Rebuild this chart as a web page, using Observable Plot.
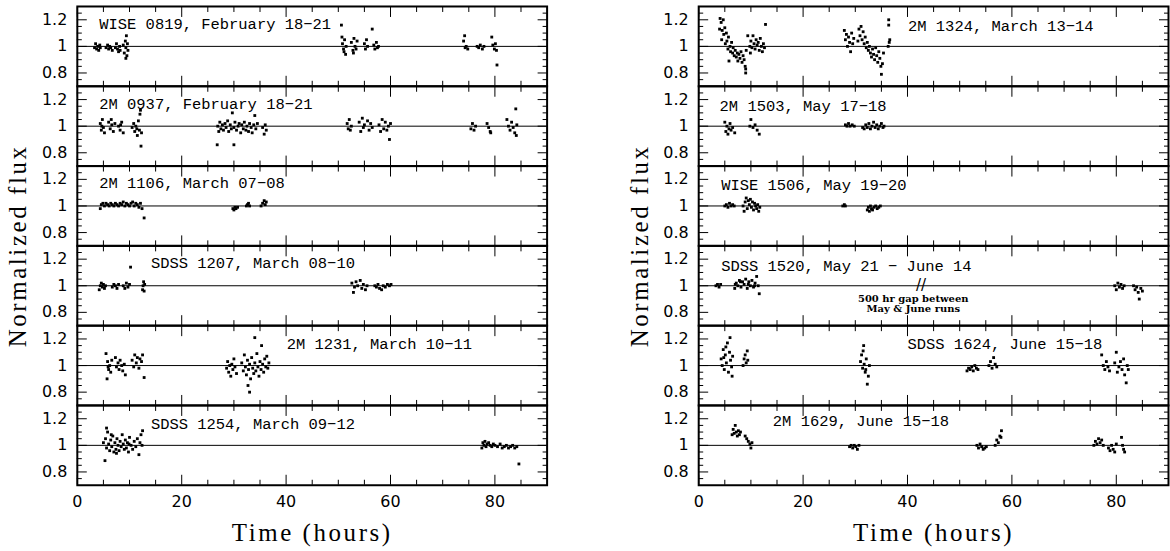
<!DOCTYPE html>
<html><head><meta charset="utf-8">
<script src="https://cdn.jsdelivr.net/npm/d3@7"></script>
<script src="https://cdn.jsdelivr.net/npm/@observablehq/plot@0.6"></script>
<style>html,body{margin:0;padding:0;background:#fff;overflow:hidden}</style>
</head><body><div id="chart"></div>
<script>
// ---- panel layout (column, row) and labels ----
const panelCol = ["L","L","L","L","L","L","R","R","R","R","R","R"];
const panelRow = [0,1,2,3,4,5,0,1,2,3,4,5];
const panelLabels = [
  "WISE 0819, February 18\u221221",
  "2M 0937, February 18\u221221",
  "2M 1106, March 07\u221208",
  "SDSS 1207, March 08\u221210",
  "2M 1231, March 10\u221211",
  "SDSS 1254, March 09\u221212",
  "2M 1324, March 13\u221214",
  "2M 1503, May 17\u221218",
  "WISE 1506, May 19\u221220",
  "SDSS 1520, May 21 \u2212 June 14",
  "SDSS 1624, June 15\u221218",
  "2M 1629, June 15\u221218"
];
const labelT = [4.2, 4.2, 4.2, 14.1, 40.1, 14.1, 40.1, 4.0, 4.3, 4.3, 40.0, 14.2];
const labelF = [1.17, 1.17, 1.17, 1.17, 1.16, 1.16, 1.15, 1.15, 1.16, 1.15, 1.16, 1.18];

// ---- tick values ----
const xMajor = [0, 20, 40, 60, 80];
const xMinor = [5, 10, 15, 25, 30, 35, 45, 50, 55, 65, 70, 75, 85];
const yMajor = [0.8, 1, 1.2];
const yMajorLabels = ["0.8", "1", "1.2"];
const yMinor = [0.75, 0.85, 0.9, 0.95, 1.05, 1.1, 1.15, 1.25];

// ---- light curves: [time (hours), normalized flux] ----
const wise0819 = [[3.3,0.99],[3.5,1.02],[3.7,0.98],[3.9,1.00],[4.1,0.97],[4.3,1.01],[4.4,0.99],
 [5.5,0.99],[5.8,1.01],[6.0,0.98],[6.2,1.00],[6.4,0.99],[6.7,0.97],
 [7.3,0.99],[7.5,1.02],[7.7,0.98],[7.9,0.96],[8.1,1.00],[8.2,0.97],
 [8.8,1.01],[9.0,0.95],[9.2,1.04],[9.3,0.99],[9.4,1.08],[9.5,0.93],[9.6,1.02],[9.7,0.97],[9.3,0.91],
 [50.6,1.16],[50.8,1.02],[51.0,0.98],[51.2,1.05],[51.4,0.94],[51.5,1.00],[50.7,1.07],[51.1,0.96],
 [52.5,1.03],[52.8,0.97],[53.0,1.06],[53.2,1.00],[53.4,0.98],[53.6,1.04],[52.9,0.95],
 [55.0,1.02],[55.2,0.98],[55.4,1.05],[55.6,1.00],
 [56.5,1.13],[56.8,1.01],[57.0,0.98],[57.3,1.03],[57.5,0.99],[57.7,1.00],
 [74.0,1.04],[74.3,0.99],[74.5,1.00],[74.8,0.98],[74.2,1.08],
 [76.6,1.00],[76.9,0.99],[77.2,1.01],[77.6,0.98],[77.9,1.00],
 [79.4,1.07],[79.6,1.01],[79.9,0.98],[80.1,1.02],[80.3,0.97],[80.4,0.86]];
const m0937 = [[4.4,1.02],[4.6,0.97],[4.8,1.05],[5.0,0.99],[5.2,0.95],[4.7,1.00],
 [6.0,1.03],[6.3,0.98],[6.6,1.01],[6.9,0.96],[7.2,1.02],[6.5,1.05],
 [7.9,1.00],[8.2,0.97],[8.5,1.03],[8.8,0.95],[8.3,1.01],
 [10.5,0.99],[10.8,1.02],[11.0,0.96],[11.2,1.00],[11.5,0.93],[11.7,1.04],[11.9,0.97],[12.0,1.09],[12.1,1.12],[12.2,0.85],[12.3,0.95],[11.4,0.98],
 [26.8,0.86],[26.9,1.00],[27.1,0.96],[27.3,1.03],[27.5,0.98],[27.8,1.01],[28.0,0.97],[28.3,1.02],[28.5,0.99],[28.8,1.04],[29.0,0.96],[29.3,1.01],[29.5,0.98],[29.7,1.10],[30.0,0.86],[30.0,0.99],[30.2,1.03],[30.5,0.97],[30.8,1.00],[31.0,1.02],[31.3,0.95],[31.5,1.01],[31.8,0.98],[32.0,1.03],[32.3,0.97],[32.5,1.00],[32.8,0.96],[33.0,1.02],[33.3,0.99],[33.5,0.95],[33.8,1.01],[34.0,1.08],[34.2,0.98],[34.5,1.02],[35.5,0.99],[35.8,0.94],[36.0,1.01],[36.2,0.97],
 [51.7,1.02],[51.9,0.98],[52.1,1.05],[52.3,0.97],[52.5,1.00],
 [54.0,1.03],[54.3,0.96],[54.6,1.06],[54.8,0.99],[55.0,1.01],
 [55.6,1.04],[55.9,0.97],[56.2,1.02],[56.5,0.99],
 [57.8,1.01],[58.1,0.96],[58.4,1.05],[58.7,0.98],[59.0,1.03],[59.3,0.97],[59.6,1.00],[59.8,0.90],[60.0,1.02],
 [75.4,0.98],[75.7,1.02],[76.0,0.97],[76.3,1.00],
 [78.5,1.02],[78.8,0.99],[79.1,0.96],[79.2,0.95],
 [82.3,1.05],[82.6,1.00],[82.9,0.97],[83.2,1.03],[83.5,0.99],[83.8,0.95],[84.0,1.13],[84.1,0.93],[84.2,1.01]];
const m1106 = [[4.4,0.98],[4.6,1.01],[4.9,1.02],[5.2,1.00],[5.5,1.02],[5.8,1.01],[6.1,1.00],[6.4,1.02],[6.7,1.01],[7.0,1.00],[7.3,1.02],[7.6,1.01],[7.9,1.00],[8.2,1.02],[8.5,1.01],[8.8,1.03],[9.1,1.00],[9.4,1.02],[9.7,1.01],[10.0,1.00],[10.3,1.02],[10.6,1.03],[10.9,1.00],[11.2,1.02],[11.5,1.01],[11.8,0.99],[12.1,1.02],[12.4,0.98],[12.8,0.91],
 [29.8,0.98],[30.0,0.97],[30.2,0.99],[30.4,0.98],[30.7,0.99],
 [32.4,1.00],[32.6,1.01],[32.8,1.02],[33.0,1.00],
 [35.2,1.00],[35.5,1.02],[35.8,1.04],[36.0,1.01],[36.2,1.03]];
const s1207 = [[4.2,0.97],[4.4,1.00],[4.6,1.02],[4.8,0.99],[5.0,1.01],[5.2,0.98],[5.4,1.00],
 [6.7,0.99],[7.0,1.01],[7.3,1.00],[7.6,0.98],[7.9,1.01],
 [8.8,1.00],[9.1,0.98],[9.4,1.02],[9.7,0.99],[10.0,1.01],[10.2,1.14],
 [12.5,0.97],[12.6,1.00],[12.7,1.03],[12.8,0.96],[12.9,1.01],
 [52.6,1.02],[52.9,0.95],[53.1,0.99],[53.4,1.03],[53.7,1.00],[54.2,1.04],[54.5,0.98],[54.8,1.01],[55.2,0.97],[55.5,1.00],
 [57.0,1.00],[57.3,0.99],[57.6,1.01],[57.9,0.98],[58.3,0.97],[58.6,1.00],[59.0,0.99],[59.4,1.01],[59.8,1.00],[60.1,1.01]];
const m1231 = [[5.5,1.09],[5.7,0.90],[5.8,1.03],[6.0,0.97],[6.2,1.00],[6.4,0.95],[6.6,1.04],[5.9,0.99],
 [7.3,1.06],[7.5,0.99],[7.8,1.02],[8.0,0.97],[8.2,1.04],[8.5,1.00],[8.7,0.96],[9.0,1.01],[9.2,0.93],
 [10.5,1.04],[10.8,0.99],[11.0,1.08],[11.3,1.02],[11.5,1.06],[11.8,0.98],[12.0,1.05],[12.3,1.03],[12.8,0.91],[12.5,1.08],
 [28.6,0.98],[28.8,1.03],[29.0,0.95],[29.2,1.00],[29.4,0.92],[29.6,1.01],[29.8,0.97],[30.0,1.05],[30.2,0.99],[30.5,0.94],
 [31.5,1.02],[31.8,0.96],[32.0,1.08],[32.2,0.99],[32.4,0.93],[32.6,1.04],[32.7,0.85],[32.8,0.97],[33.0,0.80],[33.0,1.01],[33.2,0.90],[33.4,1.06],[33.6,0.98],[33.8,0.94],[34.0,1.21],[34.0,1.02],[34.2,0.96],[34.4,1.09],[34.6,0.99],[34.8,0.92],[35.0,1.03],[35.2,0.97],[35.3,1.15],[35.5,1.01],[35.7,0.95],[35.9,1.05],[36.1,0.99],[36.3,1.07],[36.5,0.98],[36.7,1.02]];
const s1254 = [[5.0,1.02],[5.3,0.885],[5.4,1.05],[5.6,1.13],[5.6,0.98],[5.8,1.10],[6.0,1.01],[6.2,0.96],[6.4,1.04],[6.5,1.08],[6.6,0.99],[6.8,1.07],[7.0,0.95],[7.2,1.02],[7.4,0.97],[7.5,0.94],[7.6,1.05],[7.8,1.00],[8.0,0.96],[8.2,1.03],[8.4,0.99],[8.6,1.08],[8.8,1.01],[9.0,0.97],[9.2,1.04],[9.4,0.98],[9.6,1.02],[9.8,0.95],[9.9,1.01],[10.0,1.06],[10.3,1.00],[10.6,0.97],[10.9,1.03],[11.2,0.99],[11.5,1.05],[11.8,0.93],[12.0,1.02],[12.2,1.08],[12.4,1.00],[12.5,1.11],
 [77.5,0.98],[77.7,1.02],[77.9,1.00],[78.1,1.03],[78.3,0.99],[78.5,1.01],[78.8,1.02],[79.1,1.00],[79.4,0.99],[79.7,1.01],[80.0,1.00],[80.5,0.99],[81.0,1.01],[81.4,0.98],[81.8,0.99],[82.2,1.00],[82.6,0.98],[83.0,0.99],[83.4,1.00],[83.8,0.98],[84.2,0.99],[84.6,0.86]];
const m1324 = [[4.0,1.13],[4.1,1.21],[4.3,1.18],[4.4,1.05],[4.5,1.12],[4.7,1.20],[4.8,1.09],[5.0,1.14],[5.1,1.02],[5.3,1.10],[5.4,1.04],[5.6,0.98],[5.7,1.07],[5.8,0.89],[6.0,1.00],[6.1,0.96],[6.3,1.03],[6.5,0.95],[6.6,0.99],[6.8,0.93],[7.0,0.97],[7.2,0.92],[7.4,0.95],[7.5,0.89],[7.7,0.94],[7.9,0.91],[8.1,0.96],[8.3,0.88],[8.5,0.93],[8.7,0.90],[8.9,0.85],[9.0,0.80],[9.0,0.83],[9.1,0.97],
 [9.4,1.08],[9.8,1.00],[9.9,0.95],[10.0,1.04],[10.2,0.99],[10.4,1.08],[10.6,1.02],[10.8,0.98],[11.0,1.05],[11.2,1.01],[11.4,1.03],[11.6,0.97],[11.8,1.06],[12.0,1.00],[12.2,0.96],[12.4,1.02],[12.6,0.99],[12.8,1.165],
 [27.9,1.12],[28.1,1.05],[28.3,1.09],[28.5,1.00],[28.7,1.07],[28.9,1.03],[29.1,0.96],[29.3,1.10],[29.5,1.02],[29.7,1.06],[30.5,1.04],[30.7,1.13],[30.9,1.08],[31.1,1.15],[31.3,1.05],[31.5,1.11],[31.7,1.02],[31.9,1.07],[32.1,0.99],[32.3,1.03],[32.5,0.97],[32.7,1.00],[32.9,0.95],[33.1,0.92],[33.3,0.98],[33.5,0.94],[33.7,0.90],[33.9,0.99],[34.1,0.93],[34.3,0.88],[34.5,0.96],[34.7,0.91],[34.9,0.85],[35.0,0.79],[35.2,0.87],[35.4,0.95],[36.3,1.00],[36.4,1.20],[36.4,1.16],[36.5,1.03],[36.6,1.05]];
const m1503 = [[5.0,1.03],[5.2,0.96],[5.4,1.00],[5.6,0.94],[5.8,0.98],[6.0,1.02],[6.2,0.97],[6.5,0.99],[6.9,0.95],
 [9.8,1.00],[10.0,1.05],[10.4,0.99],[10.8,1.01],[11.2,0.97],[11.6,0.94],
 [28.1,1.01],[28.4,1.00],[28.7,1.02],[29.0,1.00],[29.4,1.01],[29.8,1.00],
 [31.4,0.99],[31.7,0.98],[32.0,1.01],[32.3,0.99],[32.6,1.02],[32.9,0.98],[33.2,1.00],[33.5,1.03],[33.8,0.99],[34.1,1.01],[34.4,0.98],[34.7,1.00],[35.0,1.02],[35.3,0.99],[35.5,1.00]];
const w1506 = [[5.0,1.00],[5.3,1.01],[5.6,0.99],[5.9,1.02],[6.2,1.00],[6.5,1.01],[6.8,1.00],
 [8.5,1.00],[8.7,0.96],[8.9,1.03],[9.1,1.06],[9.3,0.98],[9.5,1.04],[9.7,1.01],[9.9,1.05],[10.1,0.99],[10.3,1.03],[10.5,0.97],[10.7,1.02],[10.9,1.00],[11.1,0.98],[11.3,1.01],[11.5,0.96],[11.7,0.99],
 [27.6,1.00],[27.9,1.01],[28.1,1.00],
 [32.3,0.97],[32.5,0.99],[32.7,0.96],[32.9,1.00],[33.1,0.98],[33.3,0.97],[33.6,0.99],[33.9,1.00],[34.2,0.98],[34.5,0.99],[34.8,1.00]];
const s1520 = [[3.3,1.00],[3.6,1.01],[3.9,0.99],[4.2,1.01],
 [6.9,0.98],[7.0,1.01],[7.2,1.02],[7.5,1.00],[7.8,1.04],[8.0,1.03],[8.1,0.99],[8.4,1.03],[8.7,1.01],[9.0,1.05],[9.3,0.98],[9.5,1.01],[9.6,1.03],[9.9,1.00],[10.2,1.04],[10.5,0.99],[10.7,1.00],[10.8,1.02],[11.1,1.07],[11.4,1.00],[11.6,0.94],
 [79.7,1.00],[80.0,0.97],[80.3,1.02],[80.6,0.99],[80.9,1.01],[81.2,0.98],[81.5,1.00],
 [83.3,1.00],[83.6,0.97],[83.9,0.99],[84.2,0.95],[84.4,0.90],[84.7,0.98],[85.0,0.96]];
const s1624 = [[4.3,1.05],[4.5,1.00],[4.7,1.12],[4.8,1.06],[4.9,0.97],[5.1,1.08],[5.2,1.14],[5.3,1.02],[5.5,1.17],[5.7,0.95],[5.9,1.10],[6.0,1.21],[6.1,1.04],[6.3,0.99],[6.4,0.92],[6.5,1.07],
 [8.5,1.00],[8.7,1.05],[8.9,1.08],[9.1,1.02],[9.3,1.11],[9.4,1.04],
 [31.0,1.03],[31.2,1.08],[31.4,0.98],[31.5,1.11],[31.6,1.15],[31.7,1.01],[31.9,0.95],[32.0,0.97],[32.1,1.05],[32.3,0.86],[32.5,0.92],[32.7,1.00],
 [51.4,0.96],[51.7,0.98],[52.0,0.97],[52.3,0.99],[52.6,0.96],[52.9,1.00],[53.2,0.98],[53.5,0.97],
 [55.6,1.00],[55.9,1.03],[56.2,0.98],[56.5,1.06],[56.8,1.01],[57.1,0.99],
 [77.2,1.08],[77.5,1.00],[77.8,0.97],[78.1,1.03],[78.4,0.99],[78.7,0.96],
 [79.7,1.02],[80.0,1.10],[80.2,0.95],[80.5,0.99],[80.8,1.03],[81.1,0.97],[81.4,1.05],[81.6,0.93],[81.9,0.87],[82.1,1.00],[82.3,0.97]];
const m1629 = [[6.4,1.08],[6.6,1.12],[6.8,1.09],[7.0,1.15],[7.2,1.10],[7.4,1.07],[7.6,1.11],[7.8,1.08],[8.0,1.10],
 [8.9,1.07],[9.2,1.05],[9.5,1.03],[9.8,1.01],[10.0,0.98],[10.2,1.02],
 [28.9,0.99],[29.2,1.00],[29.5,0.98],[29.8,1.00],[30.1,0.99],[30.4,0.97],[30.7,1.00],
 [53.3,1.00],[53.6,0.98],[53.9,1.01],[54.2,0.99],[54.5,0.97],[54.8,0.98],[55.1,0.99],
 [56.8,1.00],[57.1,1.04],[57.4,1.02],[57.7,1.07],[57.9,1.06],[58.0,1.11],
 [75.7,1.00],[76.0,1.03],[76.3,1.01],[76.6,1.05],[76.9,1.02],[77.2,1.04],[77.5,1.00],
 [78.5,0.98],[78.8,0.96],[79.1,1.00],[79.4,0.97],[79.7,0.95],[80.0,1.01],
 [81.0,1.06],[81.2,1.00],[81.4,0.97],[81.6,0.95]];

const series = [wise0819, m0937, m1106, s1207, m1231, s1254, m1324, m1503, w1506, s1520, s1624, m1629];

// gap annotation (SDSS 1520 panel)
const gapNote = ["500 hr gap between", "May & June runs"];
const gapNoteT = [41.1, 41.1];
const gapNoteF = [0.905, 0.83];
const gapMarkT = [42.6];

// ---- build tables ----
const pts = series.flatMap((s, i) => s.map(([t, f]) => ({col: panelCol[i], row: panelRow[i], t, f})));
const labels = panelLabels.map((text, i) => ({col: panelCol[i], row: panelRow[i], t: labelT[i], f: labelF[i], text}));
const notes = gapNote.map((text, i) => ({col: "R", row: 3, t: gapNoteT[i], f: gapNoteF[i], text}));
const slashes = gapMarkT.map(t => ({col: "R", row: 3, t, f: 1.005, text: "//"}));
const yTitle = [{col: "L", row: 2}, {col: "R", row: 2}];
const xTitle = [{col: "L", row: 5}, {col: "R", row: 5}];

const tickOpts = {label: null, facetAnchor: null, fill: "none", strokeWidth: 1};

const chart = Plot.plot({
  width: 1173, height: 551,
  marginLeft: 77, marginRight: 1, marginTop: 6, marginBottom: 65,
  style: {background: "white", color: "black", fontFamily: "DejaVu Sans", fontSize: "16px"},
  x: {domain: [0, 90]},
  y: {domain: [0.7, 1.3]},
  fx: {domain: ["L", "R"], paddingInner: 0.2438, paddingOuter: 0, axis: null},
  fy: {domain: [0, 1, 2, 3, 4, 5], padding: 0, axis: null},
  marks: [
    Plot.ruleY([1], {stroke: "black", strokeWidth: 1}),
    Plot.dot(pts, {x: "t", y: "f", fx: "col", fy: "row", symbol: "square", r: 1.6, fill: "black", stroke: null}),
    // inward ticks
    Plot.axisX({anchor: "bottom", ticks: xMajor, tickSize: -10, ...tickOpts}),
    Plot.axisX({anchor: "bottom", ticks: xMinor, tickSize: -5, ...tickOpts}),
    Plot.axisX({anchor: "top", ticks: xMajor, tickSize: -10, ...tickOpts}),
    Plot.axisX({anchor: "top", ticks: xMinor, tickSize: -5, ...tickOpts}),
    Plot.axisY({anchor: "left", ticks: yMajor, tickSize: -10, ...tickOpts}),
    Plot.axisY({anchor: "left", ticks: yMinor, tickSize: -5, ...tickOpts}),
    Plot.axisY({anchor: "right", ticks: yMajor, tickSize: -10, ...tickOpts}),
    Plot.axisY({anchor: "right", ticks: yMinor, tickSize: -5, ...tickOpts}),
    // tick labels
    Plot.axisY({anchor: "left", ticks: yMajor, tickFormat: (d, i) => yMajorLabels[yMajor.indexOf(d)],
      tickSize: 0, tickPadding: 10, label: null, facetAnchor: null, fontSize: 16}),
    Plot.axisX({anchor: "bottom", ticks: xMajor, tickSize: 0, tickPadding: 10, label: null, fontSize: 16}),
    // panel labels
    Plot.text(labels, {x: "t", y: "f", fx: "col", fy: "row", text: "text", textAnchor: "start",
      fontFamily: "Liberation Mono", fontSize: 15.5}),
    Plot.text(notes, {x: "t", y: "f", fx: "col", fy: "row", text: "text", textAnchor: "middle",
      fontFamily: "DejaVu Serif", fontWeight: "bold", fontSize: 10}),
    Plot.text(slashes, {x: "t", y: "f", fx: "col", fy: "row", text: "text", textAnchor: "middle",
      fontFamily: "DejaVu Sans", fontSize: 15}),
    // axis titles
    Plot.text(yTitle, {fx: "col", fy: "row", frameAnchor: "bottom-left", text: () => "Normalized flux",
      rotate: -90, dx: -51, textAnchor: "middle", fontFamily: "Liberation Serif", fontSize: 25}),
    Plot.text(xTitle, {fx: "col", fy: "row", frameAnchor: "bottom", text: () => "Time (hours)",
      dy: 56, textAnchor: "middle", fontFamily: "Liberation Serif", fontSize: 25}),
    Plot.frame({stroke: "black", strokeWidth: 2})
  ]
});
// widen the axis titles' letter spacing to match the reference's plotter font
d3.select(chart).selectAll("text")
  .filter(function() { return this.textContent === "Normalized flux" || this.textContent === "Time (hours)"; })
  .style("letter-spacing", "2.6px");
document.getElementById("chart").appendChild(chart);
</script>
</body></html>
